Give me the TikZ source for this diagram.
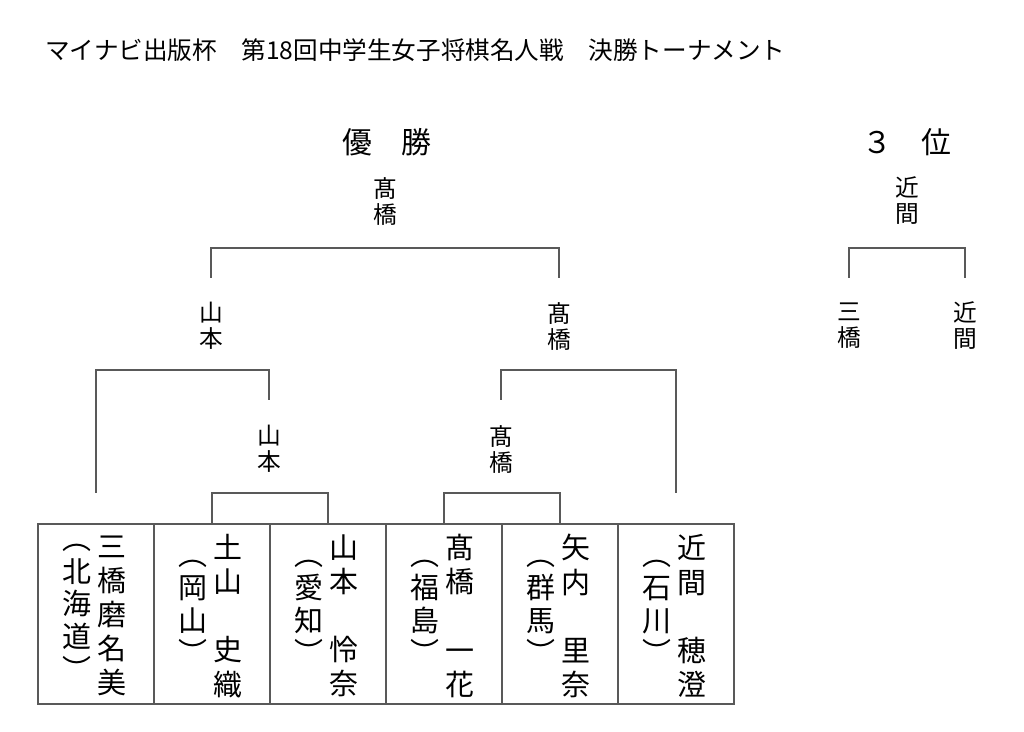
\documentclass[tikz,border=0pt]{standalone}
\usepackage{fontspec}
\setmainfont{Noto Sans CJK JP}
\usepackage{tikz}
\usetikzlibrary{positioning, calc}
\tikzset{>=latex}

\begin{document}
\begin{tikzpicture}[x=0.02cm,y=-0.02cm,
    line/.style={draw=black!65,line width=0.6pt},
    entry/.style={draw=black!65,line width=0.6pt,minimum width=2.32cm,minimum height=3.6cm,inner sep=0pt},
    player/.style={inner sep=0pt,align=center,font=\fontsize{16.5}{19.4}\selectfont},
    pref/.style={inner sep=0pt,align=center,font=\fontsize{16.5}{18.6}\selectfont},
    winner/.style={inner sep=0pt,align=center,font=\fontsize{13.5}{14.8}\selectfont},
    heading/.style={inner sep=0pt,font=\fontsize{17}{20}\selectfont}]
    \fill[white] (0,0) rectangle (1024,732);
    \node[anchor=west,inner sep=0pt,font=\fontsize{14}{16}\selectfont] (title) at (45,50)
        {マイナビ出版杯　第18回中学生女子将棋名人戦　決勝トーナメント};
    \node[heading] (win) at (387,142) {優　勝};
    \node[heading] (third) at (907,142) {３　位};
    % players
    \foreach \i/\cx/\nm/\pf in {1/96/{三\\橋\\磨\\名\\美}/{︵\\北\\海\\道\\︶},
                                2/212/{土\\山\\　\\史\\織}/{︵\\岡\\山\\︶},
                                3/328/{山\\本\\　\\怜\\奈}/{︵\\愛\\知\\︶},
                                4/444/{髙\\橋\\　\\一\\花}/{︵\\福\\島\\︶},
                                5/560/{矢\\内\\　\\里\\奈}/{︵\\群\\馬\\︶},
                                6/676/{近\\間\\　\\穂\\澄}/{︵\\石\\川\\︶}} {
        \node[entry] (b\i) at (\cx,614) {};
        \node[player] (n\i) at (\cx+16,616) {\nm};
        \node[pref] (p\i) at (\cx-19,612) {\pf};
    }
    % winners
    \node[winner] (r1a) at (269,449) {山\\本};
    \node[winner] (r1b) at (501,449) {髙\\橋};
    \node[winner] (sfa) at (211,326) {山\\本};
    \node[winner] (sfb) at (559,326) {髙\\橋};
    \node[winner] (fin) at (385,201) {髙\\橋};
    \node[winner] (thd) at (907,201) {近\\間};
    \node[winner] (tp1) at (849,326) {三\\橋};
    \node[winner] (tp2) at (965,326) {近\\間};
    \coordinate (lvA) at (0,493);
    \coordinate (lvB) at (0,400);
    \coordinate (lvC) at (0,370);
    \coordinate (lvD) at (0,278);
    \coordinate (lvE) at (0,248);
    \draw[line] (b2.north) -- (b2.north |- lvA) -| (b3.north);
    \draw[line] (b4.north) -- (b4.north |- lvA) -| (b5.north);
    \draw[line] (b1.north |- lvA) |- (r1a |- lvC) -- (r1a |- lvB);
    \draw[line] (r1b |- lvB) |- (b6.north |- lvC) -- (b6.north |- lvA);
    \draw[line] (sfa |- lvD) |- (sfb |- lvE) -- (sfb |- lvD);
    \draw[line] (tp1 |- lvD) |- (tp2 |- lvE) -- (tp2 |- lvD);
\end{tikzpicture}
\end{document}
